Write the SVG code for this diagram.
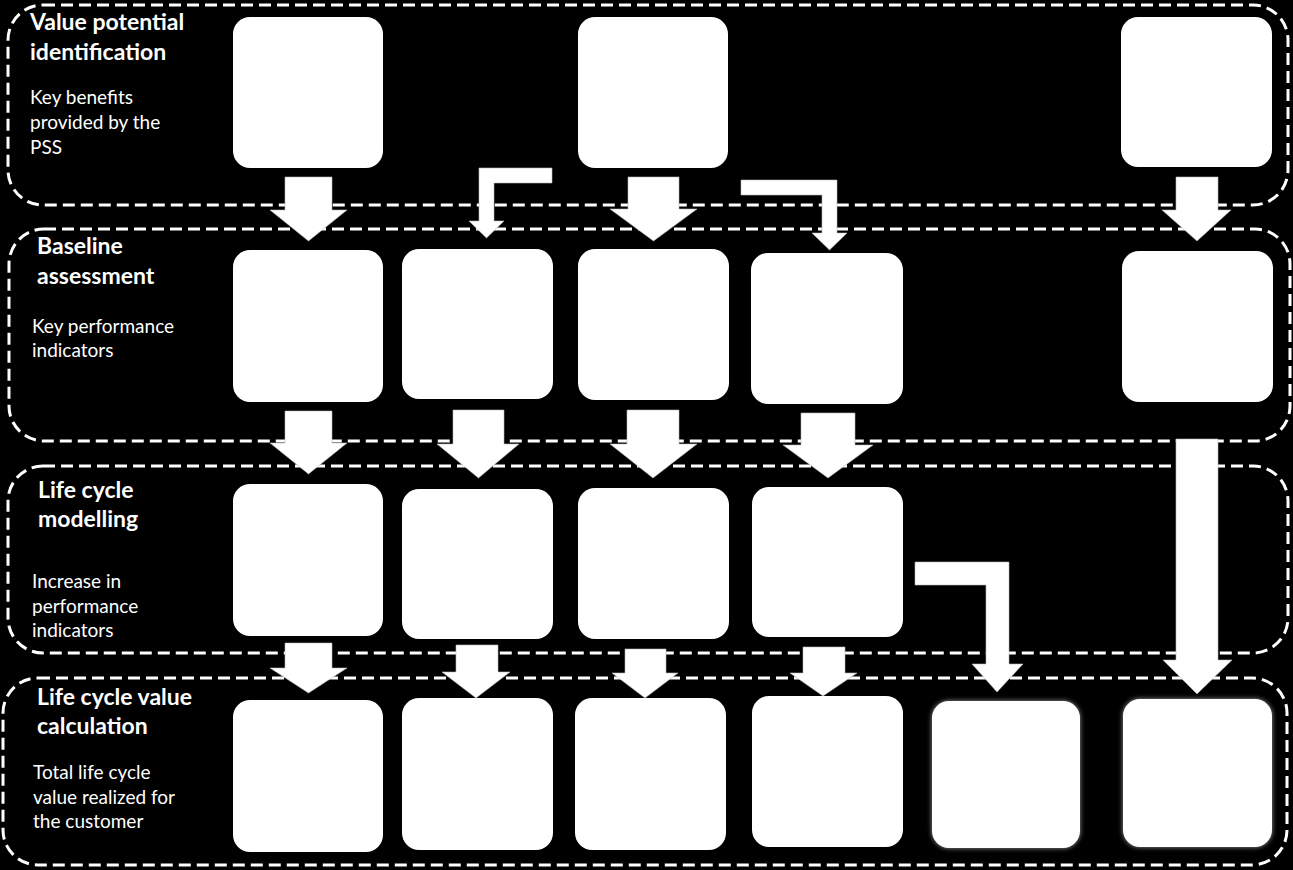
<svg xmlns="http://www.w3.org/2000/svg" width="1293" height="870" viewBox="0 0 1293 870">
<style>
.lane{fill:none;stroke:#fff;stroke-width:3;stroke-dasharray:12 6}
.box{fill:#fff}
.arr{fill:#fff;stroke:#bbb;stroke-width:0.6}
.t{font-family:Lato,"Open Sans","Liberation Sans",sans-serif;fill:#fff}
.h{font-size:23px;font-weight:bold}
.s{font-size:19px}
</style>
<defs>
<filter id="glow" x="-10%" y="-10%" width="120%" height="120%">
<feGaussianBlur in="SourceAlpha" stdDeviation="2.5" result="b"/>
<feFlood flood-color="#999"/>
<feComposite in2="b" operator="in" result="g"/>
<feMerge><feMergeNode in="g"/><feMergeNode in="SourceGraphic"/></feMerge>
</filter>
</defs>
<rect x="0" y="0" width="1293" height="870" fill="#000"/>

<g id="lane1">
<rect class="lane" x="8" y="5" width="1280" height="200" rx="35"/>
<text class="t h" x="30" y="30">Value potential</text>
<text class="t h" x="30" y="60">identification</text>
<text class="t s" x="30" y="104">Key benefits</text>
<text class="t s" x="30" y="129">provided by the</text>
<text class="t s" x="30" y="154">PSS</text>
</g>
<g id="lane2">
<rect class="lane" x="9" y="229" width="1281" height="212" rx="35"/>
<text class="t h" x="37" y="254">Baseline</text>
<text class="t h" x="37" y="284">assessment</text>
<text class="t s" x="32" y="333">Key performance</text>
<text class="t s" x="32" y="357">indicators</text>
</g>
<g id="lane3">
<rect class="lane" x="8" y="466" width="1280" height="187" rx="35"/>
<text class="t h" x="38" y="498">Life cycle</text>
<text class="t h" x="38" y="527">modelling</text>
<text class="t s" x="32" y="588">Increase in</text>
<text class="t s" x="32" y="613">performance</text>
<text class="t s" x="32" y="637">indicators</text>
</g>
<g id="lane4">
<rect class="lane" x="3" y="678" width="1284" height="187" rx="35"/>
<text class="t h" x="37" y="705">Life cycle value</text>
<text class="t h" x="37" y="734">calculation</text>
<text class="t s" x="33" y="779">Total life cycle</text>
<text class="t s" x="33" y="804">value realized for</text>
<text class="t s" x="33" y="828">the customer</text>
</g>

<g id="r1a"><rect class="box" x="233" y="17" width="150" height="151" rx="17"/></g>
<g id="r1c"><rect class="box" x="578" y="17" width="150" height="151" rx="17"/></g>
<g id="r1f"><rect class="box" x="1121" y="17" width="151" height="150" rx="17"/></g>

<g id="r2a"><rect class="box" x="233" y="250" width="150" height="152" rx="17"/></g>
<g id="r2b"><rect class="box" x="402" y="249" width="151" height="150" rx="17"/></g>
<g id="r2c"><rect class="box" x="578" y="249" width="151" height="151" rx="17"/></g>
<g id="r2d"><rect class="box" x="751" y="253" width="152" height="151" rx="17"/></g>
<g id="r2f"><rect class="box" x="1122" y="251" width="151" height="151" rx="17"/></g>

<g id="r3a"><rect class="box" x="233" y="484" width="150" height="152" rx="17"/></g>
<g id="r3b"><rect class="box" x="402" y="489" width="151" height="150" rx="17"/></g>
<g id="r3c"><rect class="box" x="578" y="488" width="151" height="151" rx="17"/></g>
<g id="r3d"><rect class="box" x="752" y="487" width="151" height="150" rx="17"/></g>

<g id="r4a"><rect class="box" x="233" y="700" width="150" height="152" rx="17"/></g>
<g id="r4b"><rect class="box" x="402" y="698" width="151" height="152" rx="17"/></g>
<g id="r4c"><rect class="box" x="575" y="698" width="151" height="152" rx="17"/></g>
<g id="r4d"><rect class="box" x="752" y="696" width="151" height="151" rx="17"/></g>
<g id="r4e"><rect class="box" x="932" y="701" width="148" height="147" rx="17" filter="url(#glow)"/></g>
<g id="r4f"><rect class="box" x="1123" y="699" width="149" height="148" rx="17" filter="url(#glow)"/></g>

<g id="connectors">
<polygon class="arr" points="285,177 332,177 332,210 347,210 308.5,241 270,210 285,210"/>
<polygon class="arr" points="628,177 679,177 679,209 697,209 653.5,241 610,209 628,209"/>
<polygon class="arr" points="1176,177 1218,177 1218,210 1231,210 1197,241 1162,210 1176,210"/>
<polygon class="arr" points="552,168 479,168 479,221 469,221 486.5,238 504,221 494,221 494,183 552,183"/>
<polygon class="arr" points="741,180 837,180 837,233 847,233 829.5,250 812,233 822,233 822,195 741,195"/>

<polygon class="arr" points="285,411 332,411 332,443 347,443 308.5,474 270,443 285,443"/>
<polygon class="arr" points="453,410 504,410 504,444 519,444 478.5,478 437,444 453,444"/>
<polygon class="arr" points="627,410 679,410 679,444 697,444 653,478 610,444 627,444"/>
<polygon class="arr" points="801,413 855,413 855,445 873,445 828,478 783,445 801,445"/>
<polygon class="arr" points="1176,439 1218,439 1218,660 1232,660 1197,694 1163,660 1176,660"/>

<polygon class="arr" points="285,643 332,643 332,668 347,668 308.5,693 270,668 285,668"/>
<polygon class="arr" points="456,645 498,645 498,672 510,672 476,698 442,672 456,672"/>
<polygon class="arr" points="625,649 666,649 666,673 678,673 645,698 612,673 625,673"/>
<polygon class="arr" points="803,647 845,647 845,673 857,673 823,696 790,673 803,673"/>
<polygon class="arr" points="915,562 1009,562 1009,664 1023,664 997,692 972,664 986,664 986,585 915,585"/>
</g>
</svg>
